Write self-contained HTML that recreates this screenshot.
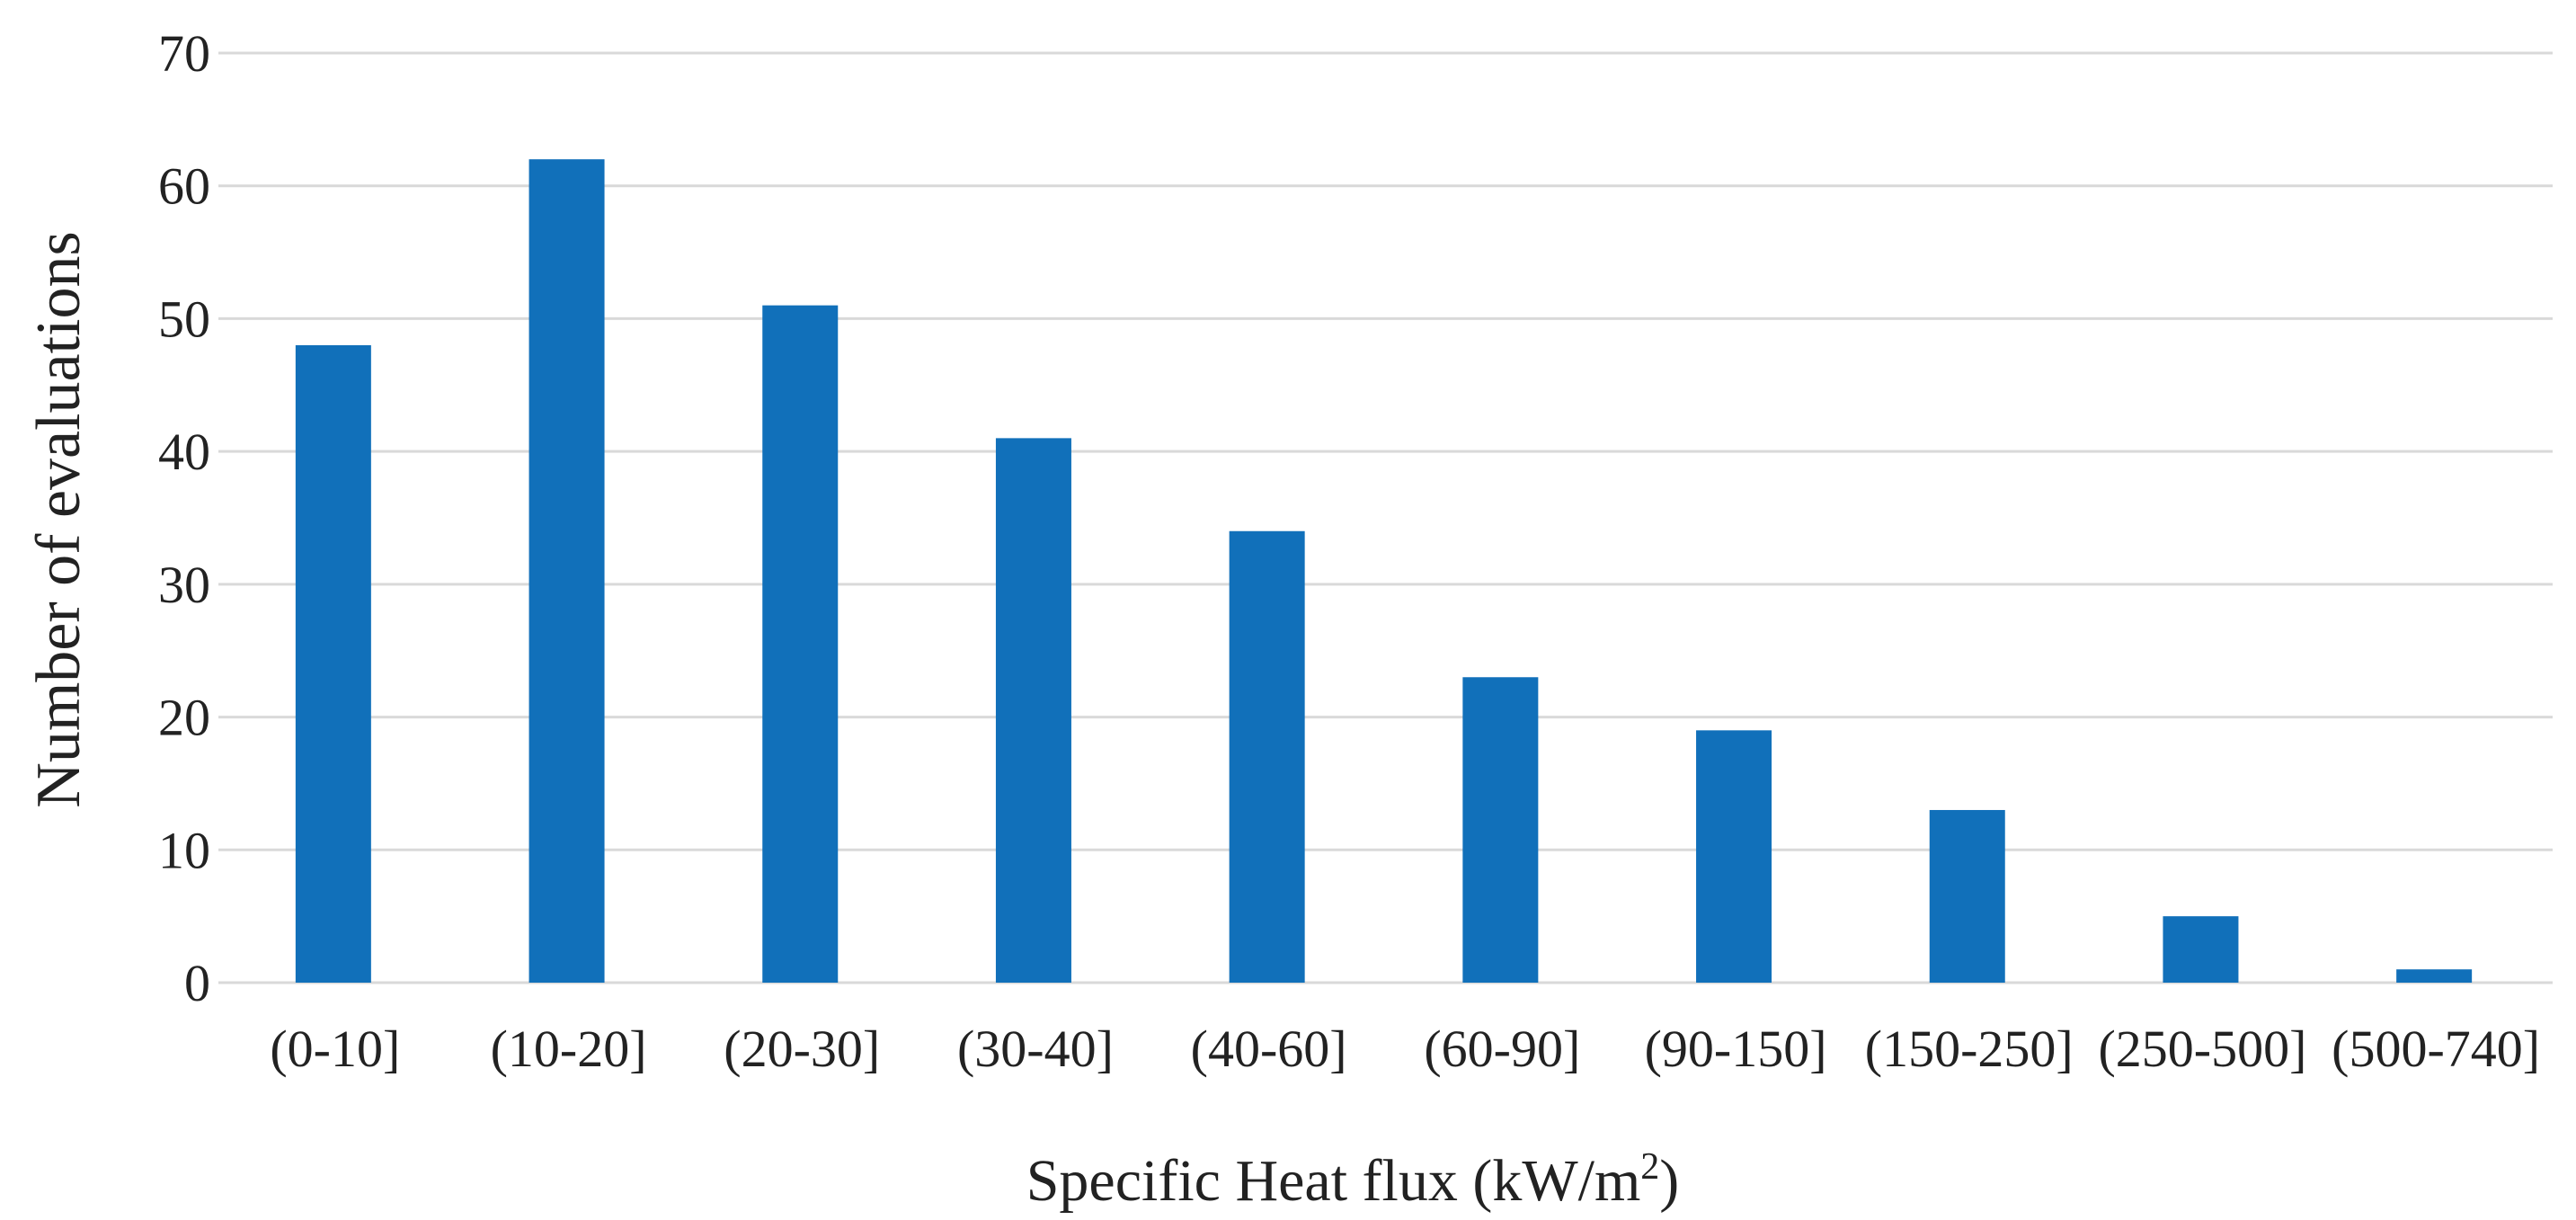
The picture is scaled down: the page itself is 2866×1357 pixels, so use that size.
<!DOCTYPE html>
<html><head><meta charset="utf-8"><style>
html,body{margin:0;padding:0;background:#fff;}
svg{display:block;font-family:"Liberation Serif",serif;}
</style></head><body>
<svg id="chart" width="2866" height="1357" viewBox="0 0 2866 1357" xmlns="http://www.w3.org/2000/svg">
<g id="grid"></g>
<g id="bars"></g>
<g id="yt"></g>
<g id="xt"></g>
<text x="0" y="0" transform="translate(88,578) rotate(-90)" text-anchor="middle" font-size="70" fill="#222">Number of evaluations</text>
<text x="1505" y="1335" text-anchor="middle" font-size="66" fill="#222">Specific Heat flux (kW/m<tspan font-size="42" dy="-24">2</tspan><tspan dy="24">)</tspan></text>
</svg>
<script>
const categories=["(0-10]","(10-20]","(20-30]","(30-40]","(40-60]","(60-90]","(90-150]","(150-250]","(250-500]","(500-740]"];
const values=[48,62,51,41,34,23,19,13,5,1];
const yTicks=[0,10,20,30,40,50,60,70];
const NS="http://www.w3.org/2000/svg";
const L=243,R=2840,Y0=1093,Y70=59;
function y(v){return Y0-(v/70)*(Y0-Y70);}
const bw=(R-L)/categories.length;
function xc(i){return L+bw*(i+0.5);}
function mk(t,a,p){const e=document.createElementNS(NS,t);for(const k in a)e.setAttribute(k,a[k]);p.appendChild(e);return e;}
const grid=document.getElementById('grid'),bars=document.getElementById('bars'),yt=document.getElementById('yt'),xt=document.getElementById('xt');
yTicks.forEach(v=>{
 const l=mk('line',{x1:L,x2:R,y1:y(v),y2:y(v),stroke:'#d9d9d9','stroke-width':3},grid);
 
 
 const t=mk('text',{x:234,y:y(v)+20,'text-anchor':'end','font-size':58,fill:'#222'},yt);
 t.textContent=v;
 
 
});
categories.forEach((c,i)=>{
 const w=84;
 const r=mk('rect',{x:xc(i)-w/2-2,y:y(values[i]),width:w,height:Y0-y(values[i]),fill:'#1170ba'},bars);
 
 
 const t=mk('text',{x:xc(i),y:1186,'text-anchor':'middle','font-size':58,fill:'#222'},xt);
 t.textContent=c;
 
 
});
</script>
</body></html>
